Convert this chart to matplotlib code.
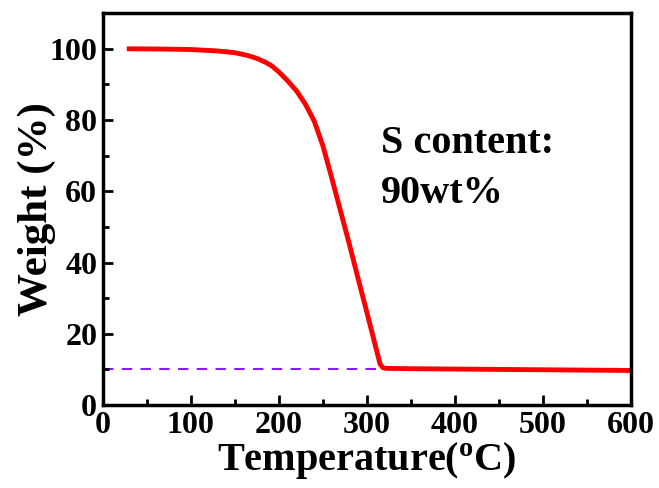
import matplotlib
matplotlib.use('Agg')
import matplotlib.pyplot as plt
from matplotlib.ticker import MultipleLocator

# TGA curve
temp = [30, 60, 100, 130, 150, 165, 175, 185, 192, 200, 210, 220, 230, 240,
        250, 260, 270, 280, 290, 300, 310, 315, 318, 322, 350, 400, 450, 500,
        550, 600]
weight = [100.0, 99.95, 99.8, 99.4, 98.9, 98.1, 97.3, 96.2, 95.2, 93.5, 91.0,
          88.2, 84.5, 79.8, 72.8, 63.8, 54.5, 45.2, 35.5, 26.0, 16.3, 11.5,
          10.5, 10.3, 10.2, 10.1, 10.0, 9.9, 9.8, 9.7]
ref_level = 10

plt.rcParams['font.family'] = 'Liberation Serif'
plt.rcParams['font.weight'] = 'bold'
plt.rcParams['mathtext.fontset'] = 'custom'
plt.rcParams['mathtext.rm'] = 'Liberation Serif:bold'
plt.rcParams['mathtext.bf'] = 'Liberation Serif:bold'

fig = plt.figure(figsize=(6.59, 4.88), dpi=100)
ax = fig.add_axes([0.156, 0.17, 0.8015, 0.803])

ax.axhline(ref_level, color='#8B1AFF', linestyle=(0, (5, 4)), linewidth=1.5, zorder=1)
ax.plot(temp, weight, color='red', linewidth=3.5, zorder=2, solid_joinstyle='round')

ax.set_xlim(0, 600)
ax.set_ylim(0, 110)
ax.xaxis.set_major_locator(MultipleLocator(100))
ax.xaxis.set_minor_locator(MultipleLocator(50))
ax.yaxis.set_major_locator(MultipleLocator(20))
ax.yaxis.set_minor_locator(MultipleLocator(10))
ax.tick_params(which='both', direction='in', width=2, labelsize=23, pad=4)
ax.tick_params(which='major', length=7)
ax.tick_params(which='minor', length=4)
for s in ax.spines.values():
    s.set_linewidth(2.5)

ax.set_xlabel(r'Temperature($\mathregular{^o}$C)', fontsize=29, fontweight='bold', labelpad=0)
ax.set_ylabel('Weight (%)', fontsize=31, fontweight='bold', labelpad=-5)

ax.text(316, 73.4, 'S content:', fontsize=29, fontweight='bold', ha='left', va='center')
ax.text(316, 59.4, '90wt%', fontsize=29, fontweight='bold', ha='left', va='center')

fig.savefig('out.png', dpi=100)
